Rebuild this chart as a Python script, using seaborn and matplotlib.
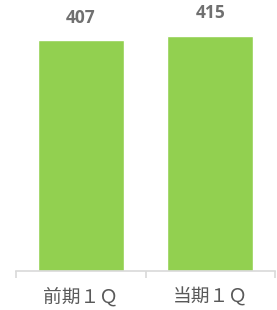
import matplotlib
matplotlib.use("Agg")
import matplotlib.pyplot as plt
import seaborn as sns
import pandas as pd

categories = ["前期１Ｑ", "当期１Ｑ"]
values = [407, 415]

sns.set_style("white")
plt.rcParams['font.family'] = ['Noto Sans CJK JP', 'DejaVu Sans']

df = pd.DataFrame({"period": categories, "value": values})

fig = plt.figure(figsize=(2.77, 3.10), dpi=100)
ax = fig.add_axes([16 / 277, 39 / 310, 259 / 277, 271 / 310])
sns.barplot(data=df, x="period", y="value", color="#92D050", width=0.665,
            saturation=1, ax=ax)

ax.set_ylim(0, 478)
ax.set_xlim(-0.5, 1.5)
ax.set_xlabel("")
ax.set_ylabel("")
ax.set_yticks([])
for s in ["top", "right", "left"]:
    ax.spines[s].set_visible(False)
ax.spines["bottom"].set_color("#D9D9D9")
ax.spines["bottom"].set_linewidth(1.2)

# category boundary ticks
ax.set_xticks([-0.5, 0.5, 1.5], minor=True)
ax.tick_params(axis="x", which="minor", bottom=True, length=5,
               color="#D9D9D9", width=1.2)
ax.tick_params(axis="x", which="major", length=0, labelsize=13.5,
               labelcolor="#595959", pad=11)

for i, v in enumerate(values):
    ax.annotate(str(v), (i, v), xytext=(0, 16), textcoords="offset points",
                ha="center", va="center", fontsize=12.5, fontweight="bold",
                color="#707070", family=["Open Sans", "DejaVu Sans"])

fig.savefig("out.png", dpi=100)
